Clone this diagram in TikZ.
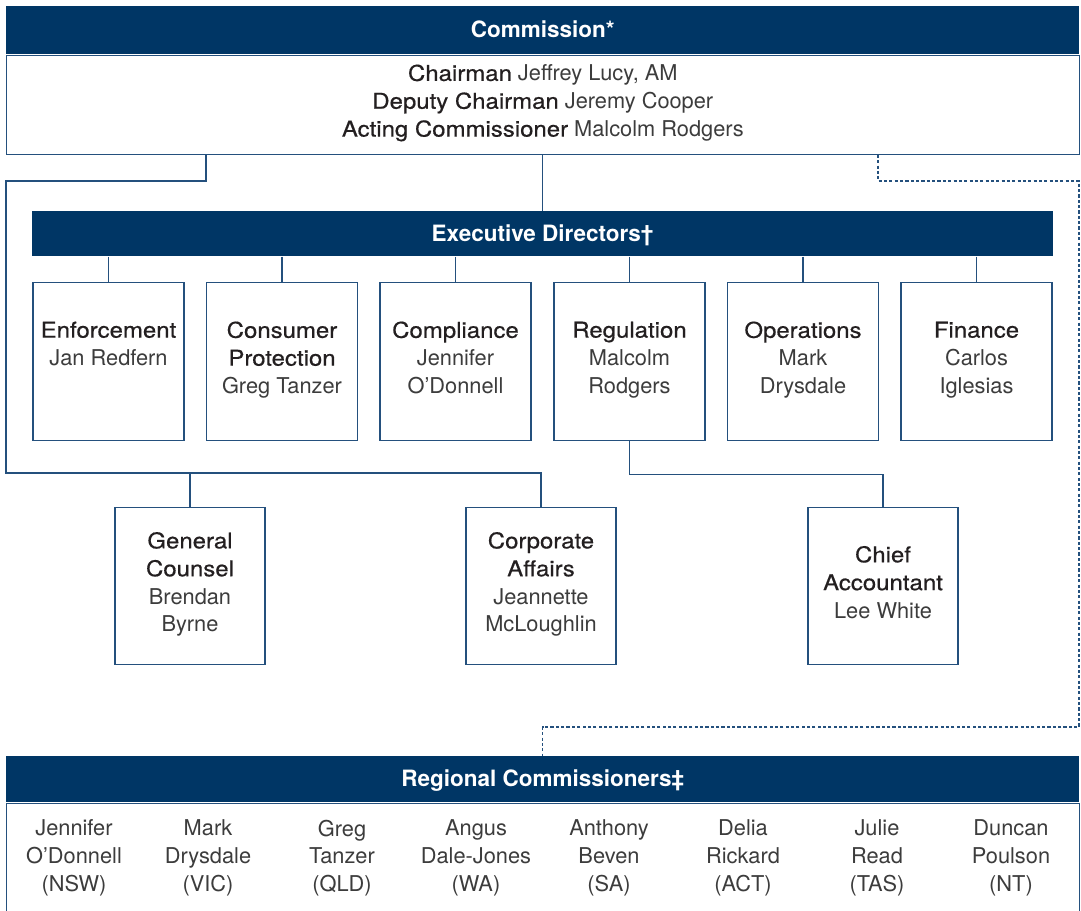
\documentclass[tikz,border=0pt]{standalone}
\usepackage{fontspec}
\setmainfont{TeX Gyre Heros}
\newfontfamily\medfont[FakeBold=0.5,FakeStretch=1.1]{TeX Gyre Heros}
\usepackage{xcolor}
\usetikzlibrary{positioning}

\definecolor{navy}{HTML}{003665}
\definecolor{rule}{HTML}{24507D}
\definecolor{ink}{HTML}{231F20}
\definecolor{soft}{HTML}{3C3C3C}
\newcommand{\px}{0.025cm}
\newcommand{\role}[1]{{\medfont\color{ink}#1}}
\newcommand{\topstrut}{\rule{0pt}{16.7pt}}

\begin{document}
\begin{tikzpicture}[x=\px,y=-\px,
	every node/.style={font=\fontsize{15.5}{19.8}\selectfont,text=soft,align=center,
		execute at begin node=\topstrut,execute at end node=\strut},
	bar/.style={fill=navy,text=white,font=\bfseries\fontsize{16}{19.8}\selectfont,inner sep=0pt},
	unit/.style={draw=rule,line width=1pt,minimum width=151*\px,minimum height=158*\px,anchor=north,inner sep=2pt},
	link/.style={draw=rule,line width=1pt},
	dotted link/.style={link,dash pattern=on 2.2pt off 1.6pt}]
	\useasboundingbox (0,0) rectangle (1081,911);
	
	% the commission
	\node[bar,minimum width=1073*\px,minimum height=48*\px,anchor=north west] (comm) at (6,6) {Commission*};
	\node[draw=rule,line width=1pt,minimum width=1073*\px,minimum height=99*\px,below=0pt of comm] (board) {
		\role{Chairman} Jeffrey Lucy, AM\\
		\role{Deputy Chairman} Jeremy Cooper\\
		\role{Acting Commissioner} Malcolm Rodgers};
	
	% executive directors
	\node[bar,minimum width=1021*\px,minimum height=45*\px,anchor=north] (exec) at (542.5,211) {Executive Directors†};
	\node[unit] (enf) at (108.5,282) {\role{Enforcement}\\Jan Redfern\\\mbox{}};
	\node[unit] (cons) at (282,282) {\role{Consumer}\\\role{Protection}\\Greg Tanzer};
	\node[unit] (compl) at (455.5,282) {\role{Compliance}\\Jennifer\\O’Donnell};
	\node[unit] (reg) at (629.5,282) {\role{Regulation}\\Malcolm\\Rodgers};
	\node[unit] (ops) at (803,282) {\role{Operations}\\Mark\\Drysdale};
	\node[unit] (fin) at (976.5,282) {\role{Finance}\\Carlos\\Iglesias};
	
	\node[unit,minimum width=150*\px,minimum height=157*\px] (gen) at (190,507) {\role{General}\\\role{Counsel}\\Brendan\\Byrne};
	\node[unit,minimum width=150*\px,minimum height=157*\px] (corp) at (541,507) {\role{Corporate}\\\role{Affairs}\\Jeannette\\McLoughlin};
	\node[unit,minimum width=150*\px,minimum height=157*\px] (acc) at (883,507) {\role{Chief}\\\role{Accountant}\\Lee White};
	
	\draw[link] (board.south -| exec.north) -- (exec.north);
	\draw[link] (exec.south -| enf.north) -- (enf.north);
	\draw[link] (exec.south -| cons.north) -- (cons.north);
	\draw[link] (exec.south -| compl.north) -- (compl.north);
	\draw[link] (exec.south -| reg.north) -- (reg.north);
	\draw[link] (exec.south -| ops.north) -- (ops.north);
	\draw[link] (exec.south -| fin.north) -- (fin.north);
	
	\draw[link] (board.south -| 206,0) |- (6,181) -- (6,473) -| (corp.north);
	\draw[link] (gen.north |- 0,473) -- (gen.north);
	\draw[link] (reg.south) -- ++(0,33) -| (acc.north);
	
	% regional commissioners
	\node[bar,minimum width=1073*\px,minimum height=46*\px,anchor=north west] (region) at (6,756) {Regional Commissioners‡};
	\node[draw=rule,line width=1pt,minimum width=1073*\px,minimum height=140*\px,below=0pt of region] (members) {};
	\draw[dotted link] (board.south -| 878,0) |- (1079,181) -- (1079,727) -| (region.north);
	
	\node (nsw) at (74,860) {Jennifer\\O’Donnell\\(NSW)};
	\node (vic) at (208,860) {Mark\\Drysdale\\(VIC)};
	\node (qld) at (342,860) {Greg\\Tanzer\\(QLD)};
	\node (wa) at (476,860) {Angus\\Dale-Jones\\(WA)};
	\node (sa) at (609,860) {Anthony\\Beven\\(SA)};
	\node (act) at (743,860) {Delia\\Rickard\\(ACT)};
	\node (tas) at (877,860) {Julie\\Read\\(TAS)};
	\node (nt) at (1011,860) {Duncan\\Poulson\\(NT)};
	
\end{tikzpicture}
\end{document}
